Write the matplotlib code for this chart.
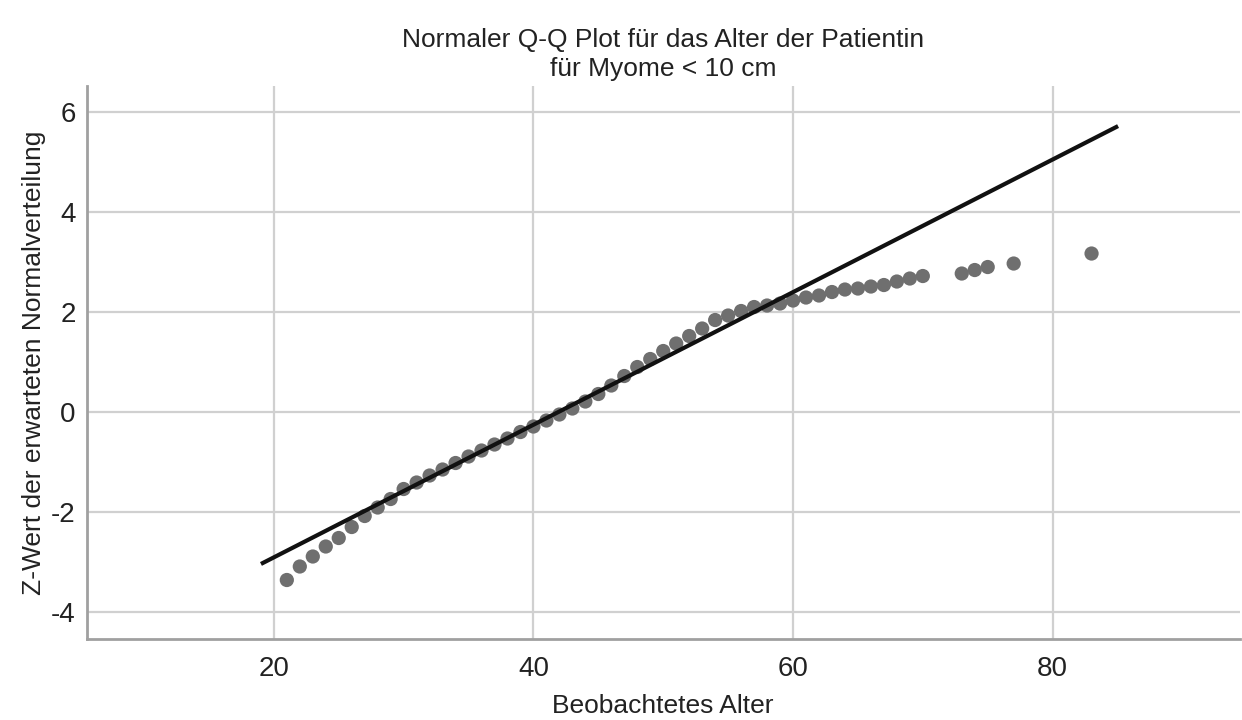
import numpy as np
import matplotlib
matplotlib.use("Agg")
import matplotlib.pyplot as plt

plt.rcParams['font.family'] = ['Liberation Sans', 'DejaVu Sans']
plt.rcParams['axes.unicode_minus'] = False

# beobachtetes Alter und erwarteter z-Wert
alter = [21, 22, 23, 24, 25, 26, 27, 28, 29, 30,
         31, 32, 33, 34, 35, 36, 37, 38, 39, 40,
         41, 42, 43, 44, 45, 46, 47, 48, 49, 50,
         51, 52, 53, 54, 55, 56, 57, 58, 59, 60,
         61, 62, 63, 64, 65, 66, 67, 68, 69, 70,
         73, 74, 75, 77, 83]
z_wert = [-3.36, -3.09, -2.89, -2.69, -2.52, -2.30, -2.08, -1.91, -1.74, -1.54,
          -1.41, -1.27, -1.15, -1.02, -0.89, -0.77, -0.65, -0.53, -0.40, -0.29,
          -0.17, -0.05, 0.07, 0.21, 0.36, 0.53, 0.72, 0.90, 1.06, 1.22,
          1.37, 1.52, 1.67, 1.84, 1.93, 2.02, 2.10, 2.13, 2.17, 2.23,
          2.29, 2.33, 2.40, 2.45, 2.47, 2.51, 2.54, 2.61, 2.67, 2.72,
          2.77, 2.84, 2.90, 2.97, 3.17]

# Referenzlinie
linie_x = [19.15, 84.9]
linie_y = [-3.02, 5.70]

x_ticks = [20, 40, 60, 80]
y_ticks = [-4, -2, 0, 2, 4, 6]

fig = plt.figure(figsize=(12.42, 7.2), dpi=100)
ax = fig.add_axes([0.070, 0.1125, 0.928, 0.768])

ax.grid(color='#d0d0d0', linewidth=1.6)
ax.set_axisbelow(True)

ax.scatter(alter, z_wert, s=105, color='#6f6f6f', edgecolors='none', zorder=3)
ax.plot(linie_x, linie_y, color='#111111', linewidth=3, zorder=4)

ax.set_xlim(5.6, 94.4)
ax.set_ylim(-4.54, 6.52)
ax.set_xticks(x_ticks)
ax.set_yticks(y_ticks)
ax.tick_params(length=0, labelsize=20, colors='#222222')
ax.tick_params(axis='x', pad=12)
ax.tick_params(axis='y', pad=8)

for s in ['top', 'right']:
    ax.spines[s].set_visible(False)
for s in ['left', 'bottom']:
    ax.spines[s].set_color('#a0a0a0')
    ax.spines[s].set_linewidth(2)

ax.set_title("Normaler Q-Q Plot für das Alter der Patientin\nfür Myome < 10 cm",
             fontsize=19, color='#222222', pad=7, linespacing=1.3)
ax.set_xlabel("Beobachtetes Alter", fontsize=19, color='#222222', labelpad=9)
ax.set_ylabel("Z-Wert der erwarteten Normalverteilung", fontsize=19, color='#222222', labelpad=4)

fig.savefig("out.png", dpi=100, facecolor='white')
